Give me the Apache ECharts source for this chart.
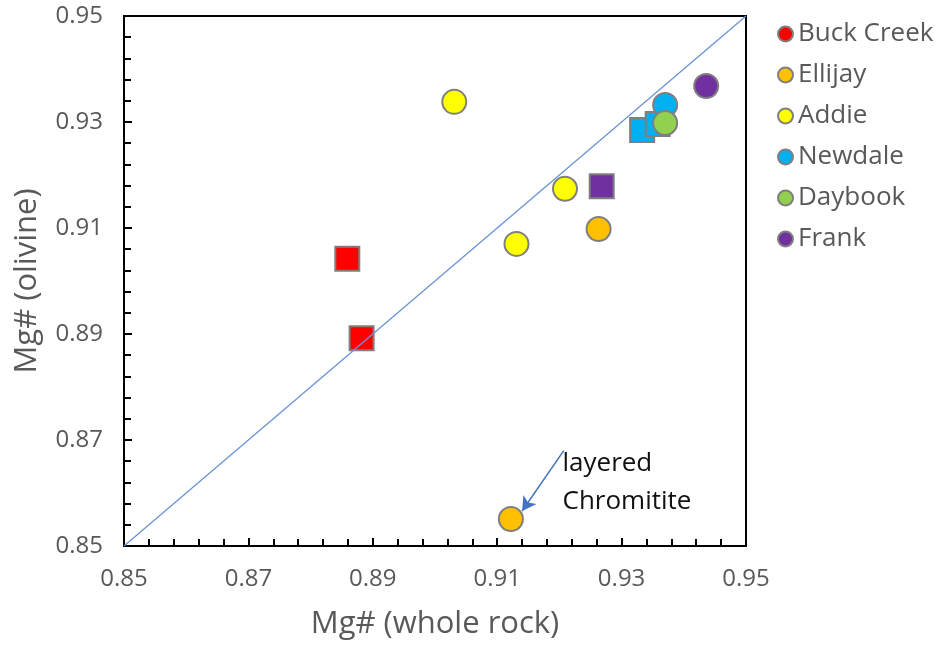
<!DOCTYPE html>
<html>
<head>
<meta charset="utf-8">
<script src="https://cdn.jsdelivr.net/npm/echarts@6/dist/echarts.min.js"></script>
<style>
  html, body { margin: 0; padding: 0; background: #fff; }
  #chart { width: 942px; height: 647px; }
</style>
</head>
<body>
<div id="chart"></div>
<script>
// Mg# of olivine vs Mg# of whole rock, by locality.
// Each locality: [wholeRock, olivine] pairs, split by marker shape.
const buckCreekCircles = [];
const buckCreekSquares = [[0.8859, 0.9042], [0.8882, 0.8892]];
const ellijayCircles = [[0.9263, 0.9098], [0.9122, 0.8551]];
const ellijaySquares = [];
const addieCircles = [[0.9031, 0.9338], [0.9209, 0.9174], [0.9131, 0.9070]];
const addieSquares = [];
const newdaleCircles = [[0.9370, 0.9332]];
const newdaleSquares = [[0.9333, 0.9285], [0.9358, 0.9296]];
const daybookCircles = [[0.9370, 0.9298]];
const daybookSquares = [];
const frankCircles = [[0.9436, 0.9368]];
const frankSquares = [[0.9268, 0.9179]];

const localities = ['Buck Creek', 'Ellijay', 'Addie', 'Newdale', 'Daybook', 'Frank'];
const colors = ['#ff0000', '#ffc000', '#ffff00', '#00b0f0', '#92d050', '#7030a0'];
const circleSets = [buckCreekCircles, ellijayCircles, addieCircles, newdaleCircles, daybookCircles, frankCircles];
const squareSets = [buckCreekSquares, ellijaySquares, addieSquares, newdaleSquares, daybookSquares, frankSquares];

// 1:1 reference line
const oneToOne = [[0.85, 0.85], [0.95, 0.95]];

// Annotation for the layered chromitite sample
const noteText = 'layered\nChromitite';
const noteAnchor = [0.9205, 0.8620];
const arrowFrom = [0.9207, 0.8680];
const arrowTo = [0.9140, 0.8566];

const axisTicks = { min: 0.85, max: 0.95, interval: 0.02 };

const labelColor = '#595959';
const font = '"Open Sans", "Noto Sans", sans-serif';

function buildData(circles, squares) {
  const out = [];
  squares.forEach(p => out.push({ value: p, symbol: 'rect' }));
  circles.forEach(p => out.push({ value: p, symbol: 'circle' }));
  return out;
}

const series = localities.map((name, i) => {
  const s = {
    name: name,
    type: 'scatter',
    symbol: 'circle',
    symbolSize: 24,
    data: buildData(circleSets[i], squareSets[i]),
    itemStyle: { color: colors[i], borderColor: '#7f7f7f', borderWidth: 2, opacity: 1 },
    emphasis: { disabled: true },
    z: 3
  };
  if (name === 'Ellijay') {
    s.markLine = {
      silent: true,
      symbol: ['none', 'arrow'],
      symbolSize: [12, 14],
      lineStyle: { color: '#4472c4', width: 1.5, type: 'solid' },
      label: { show: false },
      data: [[{ coord: arrowFrom }, { coord: arrowTo }]]
    };
    s.markPoint = {
      silent: true,
      symbol: 'circle',
      symbolSize: 0,
      data: [{ coord: noteAnchor }],
      label: {
        show: true,
        position: 'right',
        distance: 0,
        formatter: noteText,
        color: '#111111',
        fontFamily: font,
        fontSize: 26,
        lineHeight: 38,
        align: 'left'
      }
    };
  }
  return s;
});

series.push({
  name: '1:1',
  type: 'line',
  data: oneToOne,
  symbol: 'none',
  silent: true,
  lineStyle: { color: '#6a92d4', width: 1.3 },
  z: 4
});

function axis(name, nameGap) {
  return {
    type: 'value',
    min: axisTicks.min,
    max: axisTicks.max,
    interval: axisTicks.interval,
    name: name,
    nameLocation: 'middle',
    nameGap: nameGap,
    nameTextStyle: { color: labelColor, fontFamily: font, fontSize: 31 },
    axisLine: { show: true, lineStyle: { color: '#000', width: 2 } },
    axisTick: { show: true, inside: true, length: 8, lineStyle: { color: '#000', width: 2 } },
    minorTick: { show: true, splitNumber: 5, length: 7, lineStyle: { color: '#000', width: 2 } },
    splitLine: { show: false },
    minorSplitLine: { show: false },
    axisLabel: {
      color: labelColor,
      fontFamily: font,
      fontSize: 24,
      margin: 21,
      formatter: v => v.toFixed(2)
    }
  };
}

const chart = echarts.init(document.getElementById('chart'), null, { renderer: 'canvas' });
chart.setOption({
  animation: false,
  backgroundColor: '#ffffff',
  grid: {
    left: 124, top: 16, right: 196, bottom: 101,
    show: true, borderColor: '#000', borderWidth: 2, backgroundColor: 'transparent'
  },
  legend: {
    data: localities,
    orient: 'vertical',
    left: 772,
    top: 15,
    icon: 'circle',
    itemWidth: 15,
    itemHeight: 15,
    itemGap: 13,
    itemStyle: { borderColor: '#7f7f7f', borderWidth: 2 },
    textStyle: { color: labelColor, fontFamily: font, fontSize: 26, lineHeight: 28, padding: [0, 0, 0, 0] }
  },
  xAxis: axis('Mg# (whole rock)', 63),
  yAxis: axis('Mg# (olivine)', 81),
  series: series
});
</script>
</body>
</html>
